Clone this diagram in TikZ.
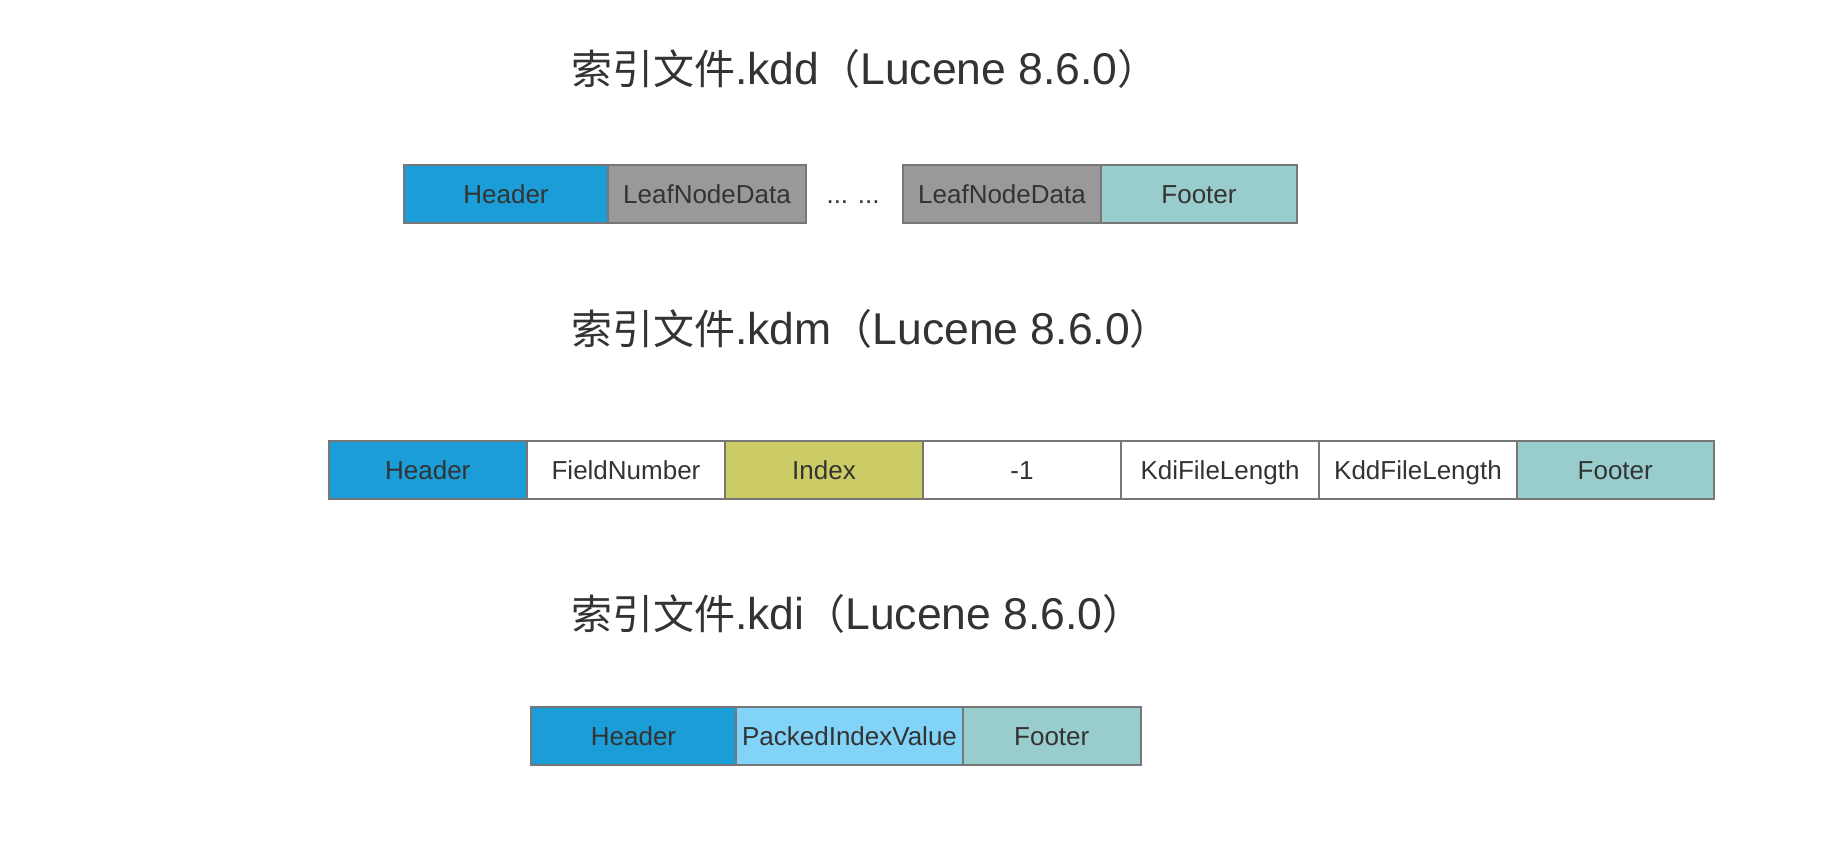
\documentclass[tikz,border=0pt]{standalone}
\usepackage{fontspec}
\setmainfont{Liberation Sans}
\newfontfamily\cjkfont{Noto Sans CJK SC}
\definecolor{txt}{HTML}{333333}
\definecolor{edge}{HTML}{777777}
\definecolor{hdr}{HTML}{1B9DD8}
\definecolor{leaf}{HTML}{999999}
\definecolor{foot}{HTML}{99CCCC}
\definecolor{idx}{HTML}{CCCC66}
\definecolor{packed}{HTML}{81D3F8}
\tikzset{
  cell/.style={draw=edge, line width=2pt, rectangle, inner sep=0pt, outer sep=0pt,
    text=txt, font=\fontsize{26}{26}\selectfont, minimum height=58pt,
    text height=18.6pt, text depth=0pt},
  title/.style={anchor=base west, inner sep=0pt, text=txt, font=\fontsize{44.5}{44.5}\selectfont},
  dots/.style={inner sep=0pt, text=txt, font=\fontsize{26}{26}\selectfont,
    text height=18.6pt, text depth=0pt}
}
\newcommand{\ttl}[1]{{\cjkfont\fontsize{41}{41}\selectfont 索引文件}.#1{\cjkfont\fontsize{41}{41}\selectfont （}Lucene 8.6.0{\cjkfont\fontsize{41}{41}\selectfont ）}}
\begin{document}
\begin{tikzpicture}[x=1pt,y=-1pt]
\useasboundingbox (0,0) rectangle (1838,852);
% titles
\node[title] (t1) at (571,84) {\ttl{kdd}};
\node[title] (t2) at (571,344) {\ttl{kdm}};
\node[title] (t3) at (571,629) {\ttl{kdi}};
% row 1: .kdd
\node[cell, fill=hdr, minimum width=204pt] (h1) at (506,194) {Header};
\node[cell, fill=leaf, minimum width=198pt] (l1) at (707,194) {LeafNodeData};
\node[dots] (d1) at (853,194) {... ...};
\node[cell, fill=leaf, minimum width=198pt] (l2) at (1002,194) {LeafNodeData};
\node[cell, fill=foot, minimum width=196pt] (f1) at (1199,194) {Footer};
% row 2: .kdm
\node[cell, fill=hdr, minimum width=198.5pt] (h2) at (427.75,470) {Header};
\node[cell, fill=white, minimum width=198pt] (fn) at (626,470) {FieldNumber};
\node[cell, fill=idx, minimum width=198pt] (ix) at (824,470) {Index};
\node[cell, fill=white, minimum width=198pt] (m1) at (1022,470) {-1};
\node[cell, fill=white, minimum width=198pt] (kdi) at (1220,470) {KdiFileLength};
\node[cell, fill=white, minimum width=198pt] (kdd) at (1418,470) {KddFileLength};
\node[cell, fill=foot, minimum width=196.5pt] (f2) at (1615.25,470) {Footer};
% row 3: .kdi
\node[cell, fill=hdr, minimum width=205pt, minimum height=57.5pt] (h3) at (633.5,735.75) {Header};
\node[cell, fill=packed, minimum width=227pt, minimum height=57.5pt] (pv) at (849.5,735.75) {PackedIndexValue};
\node[cell, fill=foot, minimum width=177.5pt, minimum height=57.5pt] (f3) at (1051.75,735.75) {Footer};
\end{tikzpicture}
\end{document}
